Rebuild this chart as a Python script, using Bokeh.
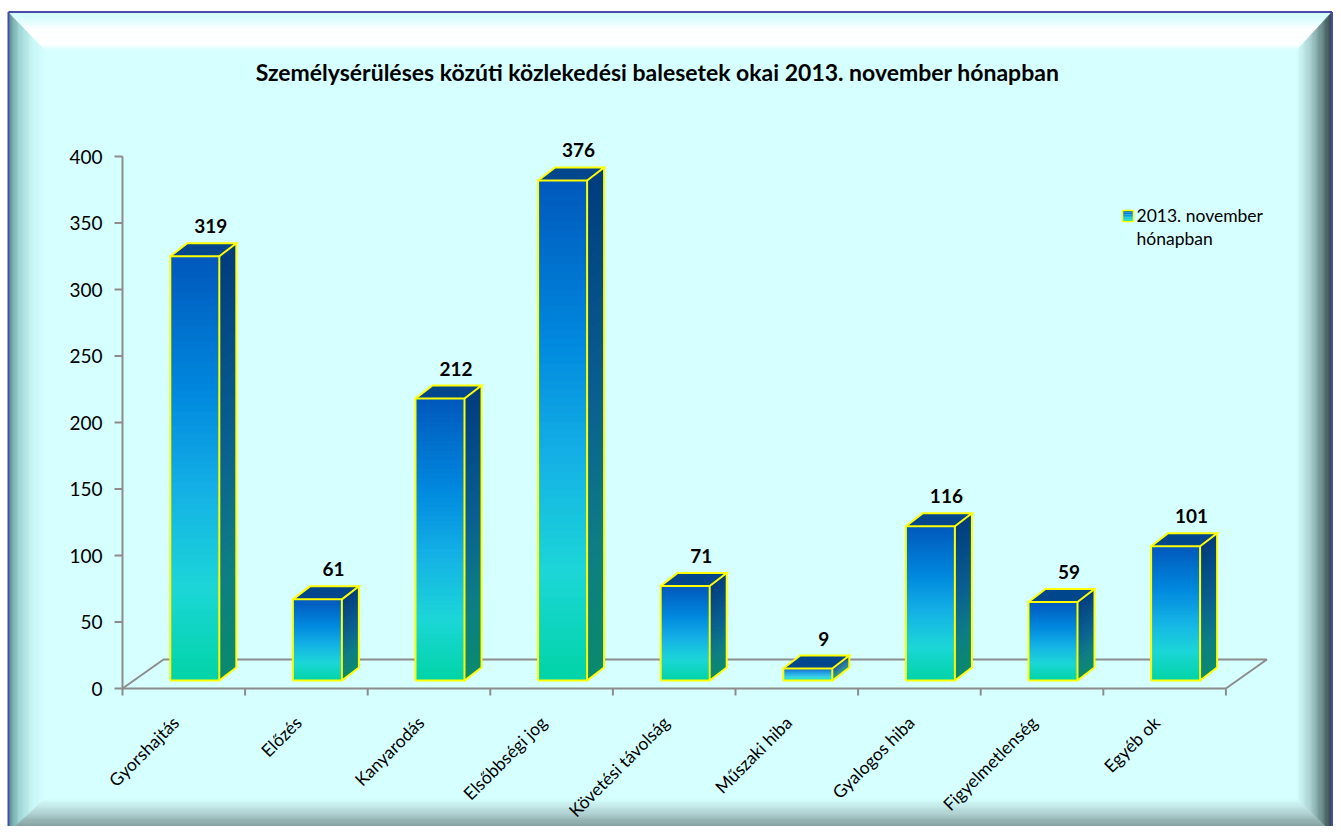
import numpy as np
from bokeh.plotting import figure
from bokeh.models import Range1d
from bokeh.core.properties import value
from bokeh.embed import file_html
from bokeh.resources import INLINE

# ---------------- data ----------------
categories = ["Gyorshajtás", "Előzés", "Kanyarodás", "Elsőbbségi jog",
              "Követési távolság", "Műszaki hiba", "Gyalogos hiba",
              "Figyelmetlenség", "Egyéb ok"]
values = [319, 61, 212, 376, 71, 9, 116, 59, 101]
y_ticks = [0, 50, 100, 150, 200, 250, 300, 350, 400]
title_text = "Személysérüléses közúti közlekedési balesetek okai 2013. november hónapban"
legend_lines = ["2013. november", "hónapban"]

# ---------------- layout ----------------
W, H = 1333, 826
OX, OY = 0, 0
PX0, UX = 183.3, 122.6  # x of first category centre, px per category
PY0, UY = 688.0, 1.33   # y of value 0, px per value unit
FONT = "Lato"


def X(px):
    return (px - PX0) / UX


def Y(py):
    return (PY0 - py) / UY


def hexc(c):
    return "#%02x%02x%02x" % tuple(int(round(v)) for v in c)


def parse(h):
    h = h.lstrip("#")
    return [int(h[i:i + 2], 16) for i in (0, 2, 4)]


def grad(stops, t):
    for (t0, c0), (t1, c1) in zip(stops[:-1], stops[1:]):
        if t <= t1:
            f = 0 if t1 == t0 else (t - t0) / (t1 - t0)
            a, b = parse(c0), parse(c1)
            return hexc([a[k] + (b[k] - a[k]) * f for k in range(3)])
    return stops[-1][1]


p = figure(width=W, height=H,
           x_range=Range1d(X(OX), X(OX + W)), y_range=Range1d(Y(OY + H), Y(OY)),
           output_backend="svg", toolbar_location=None,
           x_axis_type=None, y_axis_type=None, min_border=0,
           outline_line_color=None, background_fill_color="white",
           border_fill_color="white")

# ---------------- bevelled frame ----------------
L0, T0, R0, B0 = 8.0, 11.5, 1331.5, 832.0
L1, T1, R1, B1 = 45.0, 50.0, 1296.0, 798.0
BG = "#d6ffff"


def rect_at(t):
    return (L0 + (L1 - L0) * t, T0 + (T1 - T0) * t,
            R0 + (R1 - R0) * t, B0 + (B1 - B0) * t)


p.quad(left=X(L0), right=X(R0), top=Y(T0), bottom=Y(B0), fill_color=BG, line_color=None)

prof_left = [(0, "#5a8c8c"), (0.3, "#9ed4d4"), (0.65, "#c8f6f6"), (1, BG)]
prof_top = [(0, "#cffcfc"), (0.3, "#e6ffff"), (0.42, "#ffffff"), (0.85, "#ffffff"), (1, BG)]
prof_right = [(0, "#263434"), (0.25, "#5e7e7e"), (0.6, "#a6cccc"), (1, BG)]
prof_bottom = [(0, "#6a8686"), (0.3, "#8eaaaa"), (0.6, "#b4d4d4"), (1, BG)]

N = 30
xs, ys, cs = [], [], []
for k in range(N):
    ta, tb = k / N, (k + 1) / N
    la, ta_, ra, ba = rect_at(ta)
    lb, tb_, rb, bb = rect_at(tb)
    tm = (ta + tb) / 2
    xs.append([X(la), X(lb), X(lb), X(la)]); ys.append([Y(ta_), Y(tb_), Y(bb), Y(ba)])
    cs.append(grad(prof_left, tm))
    xs.append([X(la), X(ra), X(rb), X(lb)]); ys.append([Y(ta_), Y(ta_), Y(tb_), Y(tb_)])
    cs.append(grad(prof_top, tm))
    xs.append([X(ra), X(rb), X(rb), X(ra)]); ys.append([Y(ta_), Y(tb_), Y(bb), Y(ba)])
    cs.append(grad(prof_right, tm))
    xs.append([X(la), X(ra), X(rb), X(lb)]); ys.append([Y(ba), Y(ba), Y(bb), Y(bb)])
    cs.append(grad(prof_bottom, tm))
p.patches(xs, ys, fill_color=cs, line_color=cs, line_width=0.6)

# outer blue border
p.multi_line([[X(L0), X(L0)], [X(L0), X(R0)], [X(R0), X(R0)]],
             [[Y(B0), Y(T0)], [Y(T0), Y(T0)], [Y(T0), Y(B0)]],
             line_color="#4a4aa8", line_width=2)

# ---------------- title ----------------
n = len(categories)
p.text(x=[X(657)], y=[Y(71)], text=[title_text], text_font=value(FONT),
       text_font_style="bold", text_font_size="23px", text_color="#000000",
       text_align="center", text_baseline="middle")

# ---------------- floor & axes ----------------
AX = "#8c8c8c"
left_edge = -0.5
right_edge = n - 0.5
fdx, fdy = 41 / UX, 29 / UY
p.multi_line([[left_edge, left_edge + fdx, right_edge + fdx, right_edge],
              [left_edge, left_edge]],
             [[0, fdy, fdy, 0], [0, max(y_ticks)]],
             line_color=AX, line_width=2)
p.segment(x0=[left_edge - 8 / UX] * len(y_ticks), x1=[left_edge] * len(y_ticks),
          y0=y_ticks, y1=y_ticks, line_color=AX, line_width=2)
p.text(x=[left_edge - 20 / UX] * len(y_ticks), y=y_ticks, text=[str(t) for t in y_ticks],
       text_font=value(FONT), text_font_size="19px", text_color="#000000",
       text_align="right", text_baseline="middle")

# ---------------- bars ----------------
base = 8 / UY
fl_off, fr_off = -13.5 / UX, 35.5 / UX
ddx, ddy = 17 / UX, 13 / UY
front_stops = [(0, "#00d4a6"), (0.22, "#1cd6d8"), (0.45, "#14b0e6"),
               (0.68, "#0088de"), (1, "#0058bc")]
side_stops = [(0, "#0a8a6e"), (0.25, "#0e7e84"), (0.55, "#0a6090"), (1, "#003c7e")]
M = 60
fq_l, fq_r, fq_b, fq_t, fq_c = [], [], [], [], []
sx, sy, sc = [], [], []
tx, ty = [], []
ox, oy = [], []
for i, v in enumerate(values):
    fl, fr = i + fl_off, i + fr_off
    b, t = base, base + v
    step = v / M
    for k in range(M):
        y0 = b + step * k
        y1 = min(b + step * (k + 1.6), t)
        tm = (k + 0.5) / M
        fq_l.append(fl); fq_r.append(fr); fq_b.append(y0); fq_t.append(y1)
        fq_c.append(grad(front_stops, tm))
        sx.append([fr, fr + ddx, fr + ddx, fr]); sy.append([y0, y0 + ddy, y1 + ddy, y1])
        sc.append(grad(side_stops, tm))
    tx.append([fl, fr, fr + ddx, fl + ddx]); ty.append([t, t, t + ddy, t + ddy])
    ox += [[fl, fr, fr, fl, fl], [fl, fl + ddx, fr + ddx, fr], [fr + ddx, fr + ddx, fr]]
    oy += [[b, b, t, t, b], [t, t + ddy, t + ddy, t], [t + ddy, b + ddy, b]]

p.quad(left=fq_l, right=fq_r, bottom=fq_b, top=fq_t, fill_color=fq_c, line_color=None)
p.patches(sx, sy, fill_color=sc, line_color=None)
p.patches(tx, ty, fill_color="#00468c", line_color=None)
p.multi_line(ox, oy, line_color="#ffff00", line_width=2, line_join="miter")

# value labels
p.text(x=[i + 27 / UX for i in range(n)], y=[base + v + ddy + 17 / UY for v in values],
       text=[str(v) for v in values], text_font=value(FONT), text_font_style="bold",
       text_font_size="19px", text_color="#000000", text_align="center",
       text_baseline="middle")

# x axis ticks (category boundaries)
bounds = [k - 0.5 for k in range(n + 1)]
p.segment(x0=bounds, x1=bounds, y0=[0] * len(bounds), y1=[-7 / UY] * len(bounds),
          line_color=AX, line_width=2)
p.line([left_edge, right_edge], [0, 0], line_color=AX, line_width=2)

# category labels
p.text(x=[i - 8 / UX for i in range(n)], y=[-31 / UY] * n, text=categories,
       angle=np.pi / 4, text_font=value(FONT), text_font_size="17.5px",
       text_color="#000000", text_align="right", text_baseline="middle")

# ---------------- legend ----------------
lg_l, lg_r, lg_t, lg_b = X(1122), X(1133), Y(210), Y(221)
LM = 6
p.quad(left=[lg_l] * LM, right=[lg_r] * LM,
       bottom=[lg_b + (lg_t - lg_b) * k / LM for k in range(LM)],
       top=[lg_b + (lg_t - lg_b) * (k + 1) / LM for k in range(LM)],
       fill_color=[grad(front_stops, (k + 0.5) / LM) for k in range(LM)], line_color=None)
p.line([lg_l, lg_r, lg_r, lg_l, lg_l], [lg_b, lg_b, lg_t, lg_t, lg_b],
       line_color="#ffff00", line_width=1.5)
p.text(x=[X(1136)] * 2, y=[Y(215), Y(238)], text=legend_lines, text_font=value(FONT),
       text_font_size="17.5px", text_color="#000000", text_align="left",
       text_baseline="middle")

open("out.html", "w").write(file_html(p, INLINE))
